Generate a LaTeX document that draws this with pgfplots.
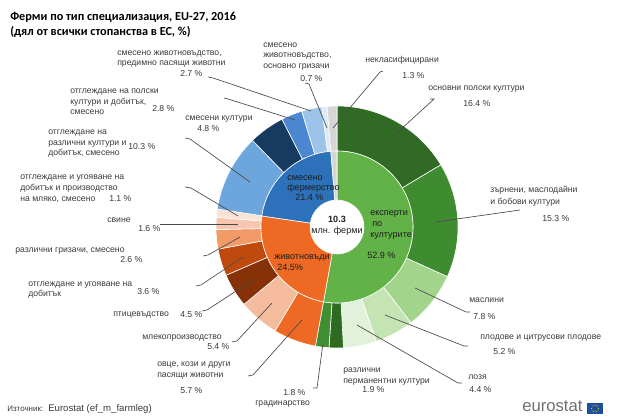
\documentclass[border=0pt]{standalone}
\usepackage{pgfplots}
\pgfplotsset{compat=1.18}
\usepackage{pgfplotstable}
\usepackage{fontspec}
\setmainfont{Liberation Sans}
\newfontfamily\titlefont{Carlito}

% ring colours
\definecolor{cropI}{HTML}{62B247}
\definecolor{cropA}{HTML}{306A24}
\definecolor{cropB}{HTML}{3E8B30}
\definecolor{cropC}{HTML}{A2D48C}
\definecolor{cropD}{HTML}{C4E4B4}
\definecolor{cropE}{HTML}{E2F1DA}
\definecolor{cropF}{HTML}{2E6A22}
\definecolor{cropG}{HTML}{418F33}
\definecolor{liveI}{HTML}{EE6A24}
\definecolor{liveA}{HTML}{EE6A24}
\definecolor{liveB}{HTML}{F5BB9D}
\definecolor{liveC}{HTML}{873108}
\definecolor{liveD}{HTML}{C04A0E}
\definecolor{liveE}{HTML}{F29A68}
\definecolor{liveF}{HTML}{F7C6AE}
\definecolor{liveG}{HTML}{FBE2D6}
\definecolor{mixI}{HTML}{2C71B9}
\definecolor{mixA}{HTML}{6DA6DD}
\definecolor{mixB}{HTML}{163A60}
\definecolor{mixC}{HTML}{4A87D0}
\definecolor{mixD}{HTML}{9EC3E8}
\definecolor{mixE}{HTML}{DCE9F6}
\definecolor{uncl}{HTML}{D6D6D6}
\definecolor{txt}{HTML}{3A3A3A}
\definecolor{dark}{HTML}{1E1E1E}
\definecolor{leader}{HTML}{4A4A4A}
\definecolor{eulogo}{HTML}{707070}
\definecolor{eublue}{HTML}{1F4E9A}

% main types (inner ring), % of all farms
\pgfplotstableread[col sep=comma]{
share,fillc
52.9,cropI
24.5,liveI
21.4,mixI
1.3,uncl
}\innerring

% detailed types (outer ring), % of all farms
\pgfplotstableread[col sep=comma]{
share,fillc
16.4,cropA
15.3,cropB
7.8,cropC
5.2,cropD
4.4,cropE
1.9,cropF
1.8,cropG
5.7,liveA
5.4,liveB
4.5,liveC
3.6,liveD
2.6,liveE
1.6,liveF
1.1,liveG
10.3,mixA
4.8,mixB
2.8,mixC
2.7,mixD
0.7,mixE
1.3,uncl
}\outerring

\def\cx{337}
\def\cy{227}
% builds the sector paths of one ring, clockwise from 12 o'clock
% #1 table, #2 inner radius, #3 outer radius, #4 macro receiving the paths
\newcommand\ringpaths[4]{%
  \pgfplotstablegetrowsof{#1}%
  \pgfmathtruncatemacro\lastrow{\pgfplotsretval-1}%
  \def\ringtotal{0}%
  \pgfplotsforeachungrouped \rr in {0,...,\lastrow}{%
    \pgfplotstablegetelem{\rr}{share}\of#1%
    \pgfmathsetmacro\ringtotal{\ringtotal+\pgfplotsretval}}%
  \pgfmathsetmacro\degper{360/\ringtotal}%
  \def\angA{90}%
  \gdef#4{}%
  \pgfplotsforeachungrouped \rr in {0,...,\lastrow}{%
    \pgfplotstablegetelem{\rr}{share}\of#1%
    \pgfmathsetmacro\angB{\angA-\degper*\pgfplotsretval}%
    \pgfplotstablegetelem{\rr}{fillc}\of#1%
    \let\fc\pgfplotsretval
    \pgfmathsetmacro\xA{\cx+#3*cos(\angA)}%
    \pgfmathsetmacro\yA{\cy-#3*sin(\angA)}%
    \pgfmathsetmacro\xB{\cx+#2*cos(\angB)}%
    \pgfmathsetmacro\yB{\cy-#2*sin(\angB)}%
    \pgfmathsetmacro\rO{#3*0.75}%
    \pgfmathsetmacro\rI{#2*0.75}%
    \edef\piece{\noexpand\fill[\fc,draw=white,line width=0.45pt]
      (axis cs:\xA,\yA) arc[start angle=\angA,end angle=\angB,radius=\rO pt]
      -- (axis cs:\xB,\yB) arc[start angle=\angB,end angle=\angA,radius=\rI pt] -- cycle;}%
    \xdef#4{\unexpanded\expandafter{#4}\unexpanded\expandafter{\piece}}%
    \let\angA\angB}%
}

\newcommand\lbl{\fontsize{6.5}{8}\selectfont}
\newcommand\ctr{\fontsize{6.8}{8}\selectfont}
% text line: left x, baseline y
\newcommand\T[3]{\node[anchor=base west,inner sep=0pt,text=txt,font=\lbl] at (axis cs:#1,#2) {#3};}
\newcommand\C[3]{\node[anchor=base west,inner sep=0pt,text=dark,font=\ctr] at (axis cs:#1,#2) {#3};}

\begin{document}
\begin{tikzpicture}
\path[use as bounding box] (0,0) rectangle (465pt,315pt);
\ringpaths{\outerring}{76}{121}{\outerpaths}
\ringpaths{\innerring}{27}{76}{\innerpaths}
\begin{axis}[at={(0,0)}, anchor=south west, width=465pt, height=315pt,
  scale only axis, xmin=0, xmax=620, ymin=0, ymax=420, y dir=reverse,
  hide axis, clip=false]
\outerpaths
\innerpaths

% title
\node[anchor=base west,inner sep=0pt,font=\titlefont\bfseries\fontsize{9.2}{11}\selectfont,text=black] at (axis cs:10,21) {Ферми по тип специализация, EU-27, 2016};
\node[anchor=base west,inner sep=0pt,font=\titlefont\bfseries\fontsize{9.2}{11}\selectfont,text=black] at (axis cs:10,35.5) {(дял от всички стопанства в ЕС, \%)};

% centre
\node[inner sep=0pt,font=\bfseries\ctr,text=dark] at (axis cs:337,219) {10.3};
\node[inner sep=0pt,font=\ctr,text=dark] at (axis cs:337,231.5) {млн. ферми};
\C{370}{215.5}{експерти}
\C{372}{226}{по}
\C{370}{237}{културите}
\C{367}{258.5}{52.9 \%}
\C{287}{180.5}{смесено}
\C{287}{190.5}{фермерство}
\C{295}{200}{21.4 \%}
\C{274}{259.5}{животновъди}
\C{277}{270}{24.5\%}

% leader lines
\begin{scope}[leader, line width=0.5pt]
\draw (axis cs:208,77) -- (axis cs:213,78) -- (axis cs:311,111);
\draw (axis cs:305,83) -- (axis cs:309,84) -- (axis cs:327,128);
\draw (axis cs:383,71) -- (axis cs:380,72) -- (axis cs:333,128);
\draw (axis cs:430,99) -- (axis cs:434,99) -- (axis cs:387,142);
\draw (axis cs:224,98) -- (axis cs:228,99) -- (axis cs:295,120);
\draw (axis cs:185,138) -- (axis cs:190,139) -- (axis cs:250,182);
\draw (axis cs:185,187) -- (axis cs:191,188) -- (axis cs:238,216);
\draw (axis cs:160,224) -- (axis cs:238,224);
\draw (axis cs:203,256) -- (axis cs:208,255) -- (axis cs:240,237);
\draw (axis cs:196,286) -- (axis cs:201,285) -- (axis cs:243,257);
\draw (axis cs:202,311) -- (axis cs:207,310) -- (axis cs:253,280);
\draw (axis cs:232,342) -- (axis cs:237,341) -- (axis cs:272,303);
\draw (axis cs:248,376) -- (axis cs:253,375) -- (axis cs:302,320);
\draw (axis cs:313,388) -- (axis cs:317,388) -- (axis cs:323,343);
\draw (axis cs:462,383) -- (axis cs:458,383) -- (axis cs:357,325);
\draw (axis cs:468,346) -- (axis cs:464,346) -- (axis cs:385,315);
\draw (axis cs:470,312) -- (axis cs:466,312) -- (axis cs:415,288);
\draw (axis cs:520,210) -- (axis cs:436,222);
\end{scope}

% labels
\T{117}{56}{смесено животновъдство,}
\T{117}{66}{предимно пасящи животни}
\T{180}{76.5}{2.7 \%}
\T{263}{47.5}{смесено}
\T{263}{58}{животновъдство,}
\T{263}{68.5}{основно гризачи}
\T{300}{82}{0.7 \%}
\T{365}{62.5}{некласифицирани}
\T{402}{79}{1.3 \%}
\T{428}{91}{основни полски култури}
\T{463}{106.5}{16.4 \%}
\T{70}{94}{отглеждане на полски}
\T{70}{104.5}{култури и добитък,}
\T{70}{115}{смесено}
\T{152}{111.5}{2.8 \%}
\T{185}{120.5}{смесени култури}
\T{197}{131.5}{4.8 \%}
\T{48}{135}{отглеждане на}
\T{48}{146}{различни култури и}
\T{48}{156}{добитък, смесено}
\T{128}{150}{10.3 \%}
\T{20}{180}{отглеждане и угояване на}
\T{20}{190.5}{добитък и производство}
\T{20}{201}{на мляко, смесено}
\T{109}{201}{1.1 \%}
\T{107}{222.5}{свине}
\T{138}{231.5}{1.6 \%}
\T{15}{252.5}{различни гризачи, смесено}
\T{120}{262.5}{2.6 \%}
\T{28}{286}{отглеждане и угояване на}
\T{28}{296}{добитък}
\T{137}{294}{3.6 \%}
\T{113}{316.5}{птицевъдство}
\T{180}{317}{4.5 \%}
\T{142}{339}{млекопроизводство}
\T{207}{349}{5.4 \%}
\T{157}{366}{овце, кози и други}
\T{157}{377}{пасящи животни}
\T{180}{393}{5.7 \%}
\T{283}{395}{1.8 \%}
\T{255}{405.5}{градинарство}
\T{343}{372.5}{различни}
\T{343}{383}{перманентни култури}
\T{362}{392.5}{1.9 \%}
\T{468}{379}{лозя}
\T{469}{392}{4.4 \%}
\T{480}{339.5}{плодове и цитрусови плодове}
\T{493}{354}{5.2 \%}
\T{469}{302.5}{маслини}
\T{473}{319}{7.8 \%}
\T{490}{192.5}{зърнени, маслодайни}
\T{490}{204.5}{и бобови култури}
\T{542}{221.5}{15.3 \%}

% source
\node[anchor=base west,inner sep=0pt,text=txt,font=\fontsize{6}{7}\selectfont] at (axis cs:7,411) {Източник:};
\node[anchor=base west,inner sep=0pt,text=txt,font=\fontsize{7.2}{8}\selectfont] at (axis cs:48,411) {Eurostat (ef\_m\_farmleg)};

% logo
\node[anchor=base west,inner sep=0pt,text=eulogo,font=\fontsize{12.5}{13}\selectfont] at (axis cs:522,411) {eurostat};
\fill[eublue] (axis cs:587,403) rectangle (axis cs:603,414);
\pgfplotsinvokeforeach{0,...,11}{%
  \fill[yellow] ([shift={(#1*30:2.5pt)}]axis cs:595,408.5) circle (0.33pt);}
\end{axis}
\end{tikzpicture}
\end{document}
